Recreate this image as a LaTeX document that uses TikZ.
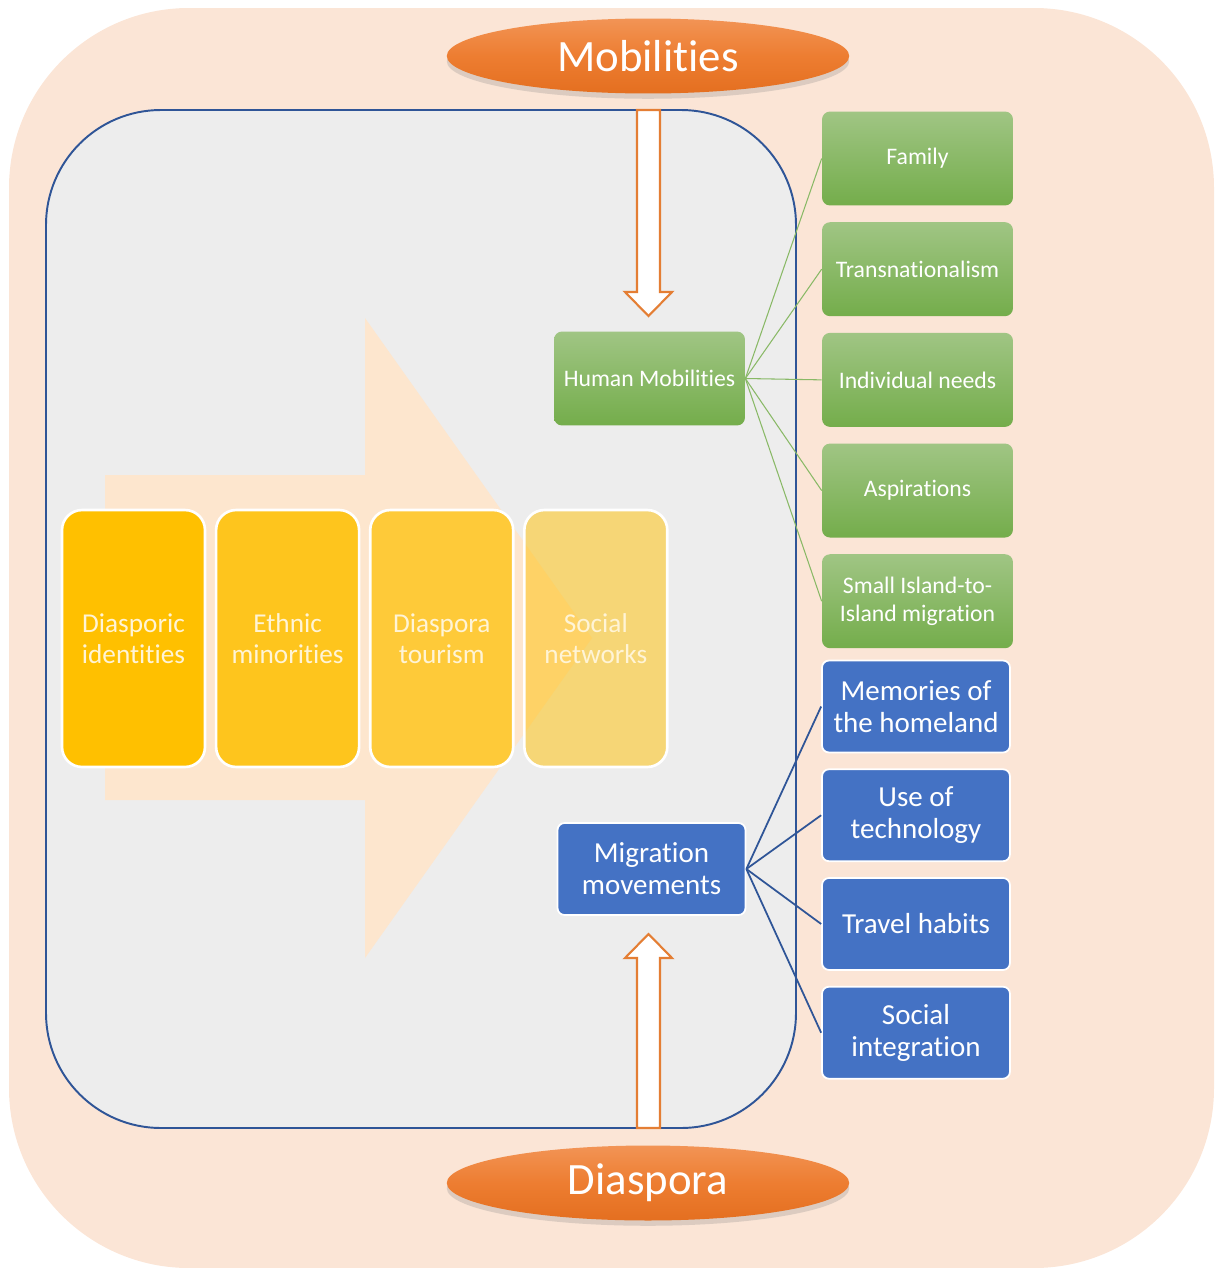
\documentclass[tikz,border=0pt]{standalone}
\usepackage{fontspec}
\setmainfont{Carlito}[Ligatures={NoCommon,NoContextual}]
\usetikzlibrary{positioning,shapes.geometric,shadows}
\definecolor{peach}{HTML}{FBE5D6}
\definecolor{panel}{HTML}{EDEDED}
\definecolor{navy}{HTML}{2F5597}
\definecolor{orangeA}{HTML}{ED7D31}
\definecolor{orangeB}{HTML}{F29455}
\definecolor{orangeC}{HTML}{E46F20}
\definecolor{greenA}{HTML}{A0C584}
\definecolor{greenB}{HTML}{74AD4B}
\definecolor{blueA}{HTML}{4472C4}
\definecolor{gold}{HTML}{FFC000}
\definecolor{paleArrow}{HTML}{FDE6CE}
\definecolor{creamText}{HTML}{FFF4D6}
\tikzset{
  topic/.style={
    ellipse,
    top color=orangeB, bottom color=orangeC, middle color=orangeA,
    text=white,
    minimum width=8.05cm,
    minimum height=1.5cm,
    font=\fontsize{25.5}{28}\selectfont,
    drop shadow={shadow xshift=0pt, shadow yshift=-3pt, opacity=0.25},
  },
  green box/.style={
    top color=greenA, bottom color=greenB,
    rounded corners=0.16cm,
    text=white,
    align=center,
    minimum width=3.82cm,
    minimum height=1.88cm,
    font=\fontsize{13.5}{16}\selectfont,
  },
  blue box/.style={
    fill=blueA,
    draw=white, line width=1pt,
    rounded corners=0.14cm,
    text=white,
    align=center,
    minimum width=3.76cm,
    minimum height=1.84cm,
    font=\fontsize{16.5}{18.2}\selectfont,
  },
  gold box/.style={
    fill=gold, fill opacity=#1, text opacity=1,
    draw=white, line width=1.5pt,
    rounded corners=0.4cm,
    text=creamText,
    align=center,
    minimum width=2.86cm,
    minimum height=5.14cm,
    font=\fontsize{15.5}{17.6}\selectfont,
  },
  hollow arrow/.style={
    draw=orangeA!80!brown, line width=1.2pt,
    fill=white,
  },
  green link/.style={draw=greenB!85!white, line width=0.6pt},
  blue link/.style={draw=navy, line width=1pt},
}

\begin{document}
\begin{tikzpicture}[x=0.02cm, y=-0.02cm]
        \useasboundingbox (0,0) rectangle (1222,1268);

        % background panels
        \fill [peach, rounded corners=3.6cm] (9,8) rectangle (1214,1268);
        \draw [navy, fill=panel, line width=1.1pt, rounded corners=2.3cm] (46,110) rectangle (796,1128);

        % big pale arrow behind the boxes
        \fill [paleArrow] (105,475) -- (365,475) -- (365,318) -- (592,638)
            -- (365,958) -- (365,800) -- (105,800) -- cycle;

        \node [gold box=1] (ident) at (133.5,638.5) {Diasporic\\identities};
        \node [gold box=0.86, right=0.17cm of ident] (ethnic) {Ethnic\\minorities};
        \node [gold box=0.72, right=0.17cm of ethnic] (tour) {Diaspora\\tourism};
        \node [gold box=0.5, right=0.17cm of tour] (social) {Social\\networks};

        % the two hollow arrows
        \draw [hollow arrow] (637,110) -- (660,110) -- (660,292) -- (672,292)
            -- (648.5,316) -- (625,292) -- (637,292) -- cycle;
        \draw [hollow arrow] (637,1128) -- (660,1128) -- (660,958) -- (672,958)
            -- (648.5,934) -- (625,958) -- (637,958) -- cycle;

        \node [topic] (mob) at (648,56) {Mobilities};
        \node [topic] (dia) at (648,1183) {Diaspora};

        % mobilities branch
        \node [green box] (hm) at (649.5,378.5) {Human Mobilities};
        \node [green box] (fam) at (917.5,158.5) {Family};
        \node [green box, below=0.32cm of fam] (trans) {Transnationalism};
        \node [green box, below=0.32cm of trans] (needs) {Individual needs};
        \node [green box, below=0.32cm of needs] (asp) {Aspirations};
        \node [green box, below=0.32cm of asp] (island) {Small Island-to-\\Island migration};

        \draw [green link] (hm.east) -- (fam.west);
        \draw [green link] (hm.east) -- (trans.west);
        \draw [green link] (hm.east) -- (needs.west);
        \draw [green link] (hm.east) -- (asp.west);
        \draw [green link] (hm.east) -- (island.west);

        % diaspora branch
        \node [blue box] (mm) at (651.5,869) {Migration\\movements};
        \node [blue box] (mem) at (916,706.5) {Memories of\\the homeland};
        \node [blue box, below=0.3cm of mem] (tech) {Use of\\technology};
        \node [blue box, below=0.3cm of tech] (travel) {Travel habits};
        \node [blue box, below=0.3cm of travel] (integ) {Social\\integration};

        \draw [blue link] (mm.east) -- (mem.west);
        \draw [blue link] (mm.east) -- (tech.west);
        \draw [blue link] (mm.east) -- (travel.west);
        \draw [blue link] (mm.east) -- (integ.west);
    \end{tikzpicture}
\end{document}
